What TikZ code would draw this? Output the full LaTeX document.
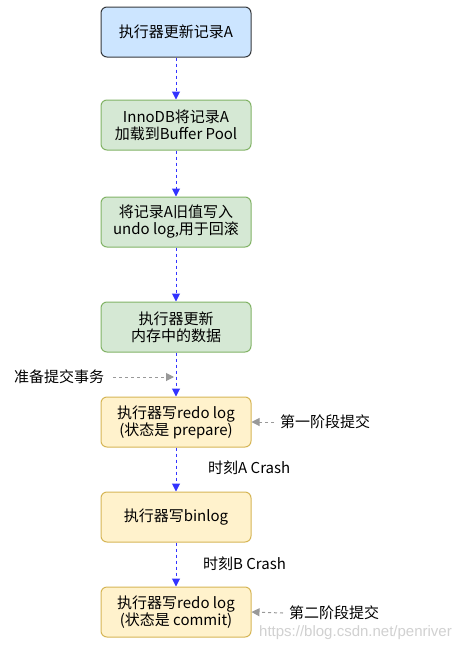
\documentclass[tikz,border=0pt]{standalone}
\usepackage{fontspec}
\setmainfont{Noto Sans CJK SC}
\usetikzlibrary{arrows.meta}
\definecolor{bluefill}{HTML}{CCE5FF}
\definecolor{bluedraw}{HTML}{36393D}
\definecolor{greenfill}{HTML}{D5E8D4}
\definecolor{greendraw}{HTML}{82B366}
\definecolor{yellowfill}{HTML}{FFF2CC}
\definecolor{yellowdraw}{HTML}{D6B656}
\definecolor{flowblue}{HTML}{3333FF}
\definecolor{notegray}{HTML}{999999}
\tikzset{
  box/.style={rectangle, rounded corners=6pt, minimum width=150pt, minimum height=50pt,
    line width=1pt, align=center, font=\fontsize{15pt}{17pt}\selectfont, inner sep=0pt},
  bluebox/.style={box, fill=bluefill, draw=bluedraw},
  greenbox/.style={box, fill=greenfill, draw=greendraw},
  yellowbox/.style={box, fill=yellowfill, draw=yellowdraw},
  flow/.style={draw=flowblue, line width=1pt, dash pattern=on 3pt off 3pt,
    -{Triangle[length=8pt,width=8pt,fill=flowblue]}},
  note/.style={draw=notegray, line width=1pt, dash pattern=on 3pt off 3pt,
    -{Triangle[length=8pt,width=8pt,fill=notegray]}},
  lbl/.style={font=\fontsize{15pt}{17pt}\selectfont, inner sep=0pt},
}
\begin{document}
\begin{tikzpicture}[x=1pt,y=-1pt]
\useasboundingbox (0,0) rectangle (472,651);
\fill[white] (0,0) rectangle (472,651);
\node[bluebox] (b1) at (176,32) {执行器更新记录A};
\node[greenbox] (b2) at (176,125) {InnoDB将记录A\\加载到Buffer Pool};
\node[greenbox] (b3) at (176,222) {将记录A旧值写入\\undo log,用于回滚};
\node[greenbox] (b4) at (176,327) {执行器更新\\内存中的数据};
\node[yellowbox] (b5) at (176,422) {执行器写redo log\\(状态是 prepare)};
\node[yellowbox] (b6) at (176,517) {执行器写binlog};
\node[yellowbox] (b7) at (176,612) {执行器写redo log\\(状态是 commit)};

\draw[flow] (b1) -- (b2);
\draw[flow] (b2) -- (b3);
\draw[flow] (b3) -- (b4);
\draw[flow] (b4) -- (b5);
\draw[flow] (b5) -- (b6);
\draw[flow] (b6) -- (b7);

\node[lbl, anchor=west] (prep) at (14,377) {准备提交事务};
\coordinate (prepend) at (174,377);
\coordinate (prepstart) at ([xshift=9pt]prep.east);
\draw[note] (prepstart) -- (prepend);

\node[lbl, anchor=west] (p1) at (280,422) {第一阶段提交};
\draw[note] ([xshift=-6pt]p1.west) -- (b5.east);

\node[lbl, anchor=west] (ca) at (208,468) {时刻A Crash};
\node[lbl, anchor=west] (cb) at (203,564) {时刻B Crash};

\node[lbl, anchor=west] (p2) at (289,613) {第二阶段提交};
\draw[note] ([xshift=-6pt]p2.west) -- (b7.east);

\node[anchor=west, inner sep=0pt, text=black!18, font=\fontsize{15pt}{17pt}\selectfont\fontspec{Liberation Sans}] (wm) at (259,633) {https://blog.csdn.net/penriver};
\end{tikzpicture}
\end{document}
